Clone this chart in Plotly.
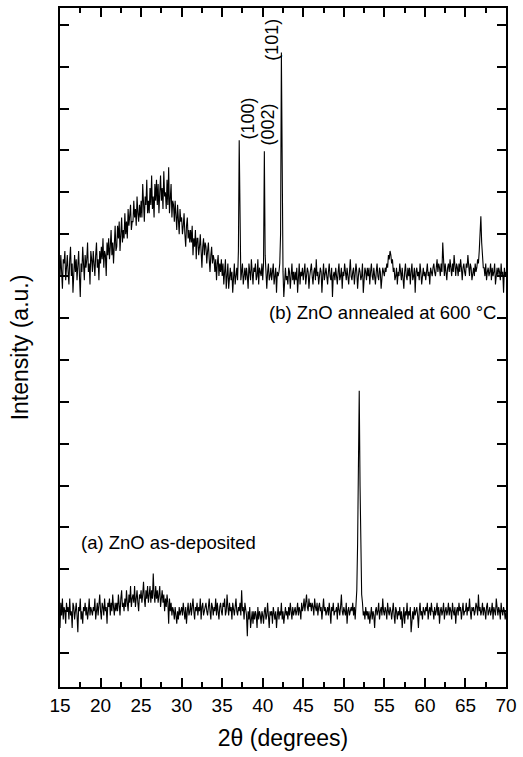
import numpy as np
import plotly.graph_objects as go

# 2-theta grid (degrees): 15.0 .. 70.0 in steps of 0.1
THETA_START = 15.0
THETA_STEP = 0.1

# (b) ZnO annealed at 600 °C -- one row per degree (d.0 ... d.9), arbitrary units
annealed_rows = [
    [9.0, 9.5, 9.1, 8.7, 9.4, 9.3, 9.6, 8.9, 9.2, 9.5],       # 15
    [9.1, 8.8, 9.4, 9.7, 9.0, 9.3, 8.6, 9.2, 9.5, 9.1],       # 16
    [9.4, 8.9, 9.2, 9.6, 9.0, 8.5, 9.3, 9.1, 9.7, 9.2],       # 17
    [8.9, 9.5, 9.2, 9.4, 9.8, 9.1, 9.3, 8.8, 9.6, 9.4],       # 18
    [9.1, 9.6, 9.3, 9.0, 9.5, 9.8, 9.2, 9.4, 8.9, 9.6],       # 19
    [9.3, 9.7, 9.4, 9.9, 9.2, 9.6, 9.5, 9.0, 9.8, 9.5],       # 20
    [9.9, 9.4, 9.7, 10.1, 9.5, 9.8, 9.3, 9.9, 10.2, 9.6],     # 21
    [9.7, 10.2, 9.9, 10.3, 9.6, 10.0, 10.4, 9.8, 10.1, 9.9],  # 22
    [10.5, 10.0, 10.3, 9.9, 10.6, 10.2, 10.4, 10.7, 10.1, 10.3],  # 23
    [10.3, 10.8, 10.4, 10.6, 10.2, 10.9, 10.5, 10.3, 10.7, 10.4],  # 24
    [10.8, 10.4, 11.2, 10.6, 10.3, 10.9, 10.7, 11.3, 10.5, 10.8],  # 25
    [10.5, 11.1, 10.7, 11.4, 10.6, 10.9, 10.4, 11.2, 10.8, 11.3],  # 26
    [10.7, 11.2, 10.5, 11.0, 11.4, 10.8, 11.1, 10.6, 11.5, 10.9],  # 27
    [11.0, 10.6, 11.3, 10.7, 11.6, 10.5, 10.9, 11.2, 10.4, 10.8],  # 28
    [10.7, 10.3, 10.8, 10.5, 10.1, 10.7, 10.4, 10.0, 10.6, 10.3],  # 29
    [10.4, 10.0, 10.2, 10.5, 10.0, 9.7, 10.2, 10.4, 9.9, 10.1],    # 30
    [9.8, 10.1, 9.8, 10.2, 9.5, 9.9, 9.7, 10.1, 9.4, 9.9],    # 31
    [9.9, 9.5, 9.7, 10.0, 9.6, 9.2, 9.7, 9.9, 9.5, 9.8],      # 32
    [9.7, 9.3, 9.6, 9.8, 9.4, 9.1, 9.5, 9.7, 9.3, 9.5],       # 33
    [9.4, 9.1, 9.4, 8.9, 9.3, 9.5, 9.0, 9.3, 9.1, 9.4],       # 34
    [9.0, 9.3, 8.8, 9.2, 9.4, 8.7, 9.1, 9.3, 8.7, 9.1],       # 35
    [9.2, 8.9, 9.1, 8.6, 9.0, 9.3, 8.8, 9.1, 9.2, 8.9],       # 36
    [9.6, 12.24, 9.4, 8.9, 9.1, 9.3, 8.8, 9.0, 9.2, 8.9],     # 37  (100)
    [9.2, 9.0, 8.7, 9.3, 9.1, 8.9, 9.4, 9.0, 8.8, 9.2],       # 38
    [9.1, 9.3, 8.9, 9.0, 9.4, 8.8, 9.2, 9.1, 9.0, 9.3],       # 39
    [8.9, 9.3, 11.98, 9.5, 9.0, 8.7, 9.1, 9.3, 8.9, 9.0],     # 40  (002)
    [9.2, 8.9, 9.1, 9.3, 8.8, 9.0, 9.2, 8.6, 9.1, 9.0],       # 41
    [9.1, 9.3, 10.0, 14.34, 10.2, 9.1, 8.5, 9.0, 9.2, 8.9],   # 42  (101)
    [9.0, 8.8, 9.2, 9.1, 8.7, 9.0, 9.3, 8.9, 9.1, 8.8],       # 43
    [9.1, 8.9, 9.2, 8.6, 9.0, 9.3, 8.8, 9.1, 9.0, 9.2],       # 44
    [8.9, 9.1, 9.3, 8.8, 9.0, 9.2, 9.1, 8.7, 9.0, 9.2],       # 45
    [9.3, 9.0, 8.8, 9.1, 9.2, 8.9, 9.4, 9.0, 9.1, 8.8],       # 46
    [9.0, 9.2, 9.1, 8.6, 9.0, 9.3, 8.9, 9.1, 9.2, 9.0],       # 47
    [8.8, 9.1, 9.3, 9.0, 8.9, 9.2, 8.5, 9.0, 9.1, 8.9],       # 48
    [9.2, 9.0, 8.8, 9.1, 9.3, 8.9, 9.0, 9.2, 8.7, 9.1],       # 49
    [9.0, 9.3, 9.1, 8.9, 9.2, 9.0, 8.8, 9.1, 9.4, 9.0],       # 50
    [8.9, 9.1, 9.2, 8.8, 9.0, 9.3, 9.1, 8.7, 9.0, 9.2],       # 51
    [9.1, 8.9, 9.0, 9.3, 8.6, 9.0, 9.2, 9.1, 8.9, 9.2],       # 52
    [9.0, 9.2, 8.8, 9.1, 9.3, 9.0, 8.9, 9.2, 9.0, 8.8],       # 53
    [9.1, 9.3, 9.0, 8.9, 9.2, 9.1, 8.7, 9.0, 9.2, 9.1],       # 54
    [9.0, 9.2, 9.1, 9.3, 9.2, 9.5, 9.4, 9.6, 9.5, 9.3],       # 55
    [9.4, 9.1, 9.2, 8.9, 9.0, 9.2, 8.8, 9.1, 9.0, 9.3],       # 56
    [9.1, 8.9, 9.2, 9.0, 8.7, 9.1, 9.3, 9.0, 8.9, 9.2],       # 57
    [9.0, 9.2, 8.8, 9.1, 9.3, 8.9, 9.0, 9.2, 8.6, 9.1],       # 58
    [9.2, 9.0, 9.1, 8.9, 9.3, 9.1, 8.8, 9.0, 9.2, 9.0],       # 59
    [9.1, 8.9, 9.2, 9.3, 9.0, 9.1, 8.8, 9.2, 9.1, 9.0],       # 60
    [9.2, 9.3, 9.1, 9.0, 9.2, 9.4, 9.1, 9.3, 9.2, 9.0],       # 61
    [9.3, 9.1, 9.8, 9.2, 9.0, 9.3, 9.1, 8.9, 9.2, 9.3],       # 62
    [9.1, 9.4, 9.2, 9.0, 9.3, 9.1, 9.5, 9.2, 9.0, 9.3],       # 63
    [9.2, 9.0, 9.3, 9.1, 9.4, 9.2, 8.9, 9.2, 9.3, 9.1],       # 64
    [9.0, 9.3, 9.2, 9.5, 9.1, 9.0, 9.3, 9.2, 8.9, 9.1],       # 65
    [9.2, 9.0, 9.3, 9.1, 9.2, 9.4, 9.3, 9.6, 9.9, 10.43],     # 66
    [9.8, 9.5, 9.2, 9.2, 9.0, 9.3, 8.9, 9.1, 9.2, 9.0],       # 67
    [9.1, 9.3, 8.9, 9.2, 9.0, 9.1, 9.3, 8.8, 9.1, 9.2],       # 68
    [9.0, 9.2, 9.1, 8.9, 9.3, 9.0, 9.1, 8.6, 9.2, 9.0],       # 69
]
annealed_last = 9.1  # 70.0

# (a) ZnO as-deposited -- one row per degree (d.0 ... d.9), arbitrary units
deposited_rows = [
    [0.6, 1.2, 0.9, 1.3, 0.8, 1.1, 1.0, 0.7, 1.2, 1.0],   # 15
    [1.1, 0.8, 1.3, 0.9, 1.0, 0.6, 1.2, 1.1, 0.8, 1.0],   # 16
    [1.2, 0.9, 0.5, 1.1, 1.0, 1.3, 0.8, 1.0, 0.7, 1.1],   # 17
    [1.0, 1.2, 0.9, 1.1, 0.8, 1.0, 1.3, 0.9, 1.1, 1.0],   # 18
    [0.9, 1.1, 1.0, 1.3, 0.8, 1.0, 1.2, 0.9, 1.1, 1.4],   # 19
    [1.0, 0.8, 1.2, 1.1, 0.9, 1.3, 1.0, 1.1, 0.7, 1.2],   # 20
    [1.1, 1.3, 0.9, 1.2, 1.0, 1.4, 1.1, 0.9, 1.2, 1.0],   # 21
    [1.2, 1.0, 1.4, 1.1, 0.9, 1.3, 1.5, 1.1, 1.2, 1.0],   # 22
    [1.3, 1.1, 1.5, 1.2, 1.0, 1.4, 1.2, 1.6, 1.1, 1.3],   # 23
    [1.4, 1.2, 1.6, 1.1, 1.3, 1.5, 1.2, 1.0, 1.4, 1.3],   # 24
    [1.5, 1.2, 1.4, 1.7, 1.3, 1.1, 1.5, 1.3, 1.6, 1.2],   # 25
    [1.4, 1.6, 1.2, 1.5, 1.3, 1.9, 1.4, 1.2, 1.6, 1.3],   # 26
    [1.5, 1.2, 1.4, 1.6, 1.1, 1.3, 1.5, 1.2, 1.4, 1.0],   # 27
    [1.3, 1.1, 1.4, 1.2, 0.7, 1.3, 1.0, 1.2, 0.9, 1.1],   # 28
    [1.0, 0.8, 1.1, 0.9, 0.7, 1.0, 0.8, 1.1, 0.9, 1.0],   # 29
    [1.1, 0.9, 1.2, 1.0, 0.8, 1.1, 0.7, 1.0, 1.2, 0.9],   # 30
    [1.0, 1.2, 0.9, 1.1, 1.3, 1.0, 0.8, 1.1, 1.0, 1.2],   # 31
    [0.9, 1.1, 1.0, 1.3, 0.8, 1.1, 1.2, 0.9, 1.0, 1.1],   # 32
    [1.2, 1.0, 0.9, 1.1, 1.3, 1.0, 0.8, 1.2, 1.1, 0.9],   # 33
    [1.1, 1.0, 1.3, 0.9, 1.2, 1.0, 0.8, 1.1, 1.2, 1.0],   # 34
    [0.9, 1.2, 1.1, 1.3, 0.9, 1.0, 1.4, 1.1, 0.9, 1.2],   # 35
    [1.0, 1.1, 0.8, 1.2, 1.0, 0.9, 1.1, 1.3, 1.0, 0.9],   # 36
    [1.1, 1.0, 1.2, 0.9, 1.5, 1.0, 1.1, 0.8, 1.2, 1.0],   # 37
    [0.9, 0.4, 1.0, 0.8, 1.1, 0.6, 0.9, 1.0, 0.7, 1.0],   # 38
    [0.8, 1.0, 0.9, 0.6, 1.1, 0.8, 1.0, 0.9, 0.7, 1.0],   # 39
    [0.9, 0.7, 1.0, 1.1, 0.8, 0.9, 1.2, 0.8, 0.6, 1.0],   # 40
    [0.9, 1.0, 0.7, 1.1, 0.9, 0.8, 1.0, 0.6, 0.9, 1.1],   # 41
    [0.8, 1.0, 0.9, 1.2, 0.8, 1.0, 0.7, 0.9, 1.1, 0.9],   # 42
    [1.0, 0.8, 1.1, 0.9, 1.2, 1.0, 0.8, 1.1, 0.9, 1.0],   # 43
    [1.1, 0.9, 1.0, 1.2, 0.9, 1.1, 1.0, 0.8, 1.2, 1.0],   # 44
    [1.1, 1.3, 1.0, 1.2, 1.4, 1.1, 1.0, 1.3, 1.1, 1.2],   # 45
    [1.0, 1.2, 1.1, 0.9, 1.3, 1.1, 1.0, 1.2, 0.9, 1.1],   # 46
    [1.2, 1.0, 1.1, 0.8, 1.2, 1.3, 1.0, 1.1, 0.9, 1.0],   # 47
    [1.1, 0.9, 1.2, 1.0, 0.7, 1.1, 1.0, 1.2, 0.9, 1.0],   # 48
    [1.0, 1.1, 0.8, 1.2, 1.0, 0.9, 1.1, 1.4, 1.0, 0.9],   # 49
    [1.1, 1.0, 0.9, 1.2, 0.7, 1.0, 1.1, 0.9, 1.0, 1.1],   # 50
    [1.0, 1.2, 0.9, 1.1, 0.8, 1.2, 1.5, 2.6, 4.6, 6.26],  # 51
    [4.0, 2.2, 1.4, 1.2, 0.9, 1.0, 0.8, 1.1, 0.9, 1.0],   # 52
    [0.8, 1.0, 0.7, 0.9, 1.1, 0.8, 1.0, 0.9, 0.6, 1.0],   # 53
    [1.1, 0.9, 1.0, 1.2, 0.8, 1.0, 1.1, 0.9, 1.3, 1.0],   # 54
    [0.9, 1.1, 1.0, 0.8, 1.2, 1.0, 0.9, 1.1, 1.0, 0.8],   # 55
    [1.0, 1.2, 0.9, 0.7, 1.1, 1.0, 0.8, 1.0, 0.9, 1.1],   # 56
    [0.8, 1.0, 0.6, 0.9, 1.1, 0.7, 1.0, 0.9, 1.2, 0.8],   # 57
    [1.0, 0.9, 1.1, 0.5, 0.9, 1.0, 0.8, 1.1, 0.9, 1.0],   # 58
    [1.1, 0.9, 0.6, 1.0, 1.2, 0.9, 1.0, 0.8, 1.1, 1.0],   # 59
    [0.9, 1.1, 1.0, 1.2, 0.8, 1.0, 1.1, 0.9, 1.2, 1.0],   # 60
    [1.0, 0.8, 1.1, 0.9, 1.0, 1.2, 0.9, 1.1, 0.7, 1.0],   # 61
    [1.1, 0.9, 1.0, 1.2, 0.8, 1.0, 1.1, 0.9, 1.0, 1.2],   # 62
    [0.9, 1.1, 1.0, 0.8, 1.2, 1.0, 0.9, 1.1, 0.7, 1.0],   # 63
    [1.1, 0.9, 1.2, 1.0, 1.1, 0.8, 1.0, 1.2, 0.9, 1.0],   # 64
    [1.0, 1.2, 0.9, 1.1, 1.0, 1.3, 1.0, 0.8, 1.1, 1.0],   # 65
    [1.1, 0.9, 1.0, 1.2, 1.1, 0.9, 1.4, 1.0, 1.1, 0.9],   # 66
    [1.0, 1.2, 0.9, 1.1, 1.0, 0.8, 1.1, 1.2, 0.9, 1.0],   # 67
    [1.1, 0.9, 1.0, 1.2, 0.8, 1.1, 1.0, 0.9, 1.3, 1.0],   # 68
    [0.9, 1.1, 1.0, 0.8, 1.2, 1.0, 0.9, 1.1, 1.0, 0.8],   # 69
]
deposited_last = 1.0  # 70.0

x_ticks = [15, 20, 25, 30, 35, 40, 45, 50, 55, 60, 65, 70]
x_minor_ticks = [17.5, 22.5, 27.5, 32.5, 37.5, 42.5, 47.5, 52.5, 57.5, 62.5, 67.5]
y_ticks = list(range(16))

annealed = [v for row in annealed_rows for v in row] + [annealed_last]
deposited = [v for row in deposited_rows for v in row] + [deposited_last]
theta = np.round(THETA_START + THETA_STEP * np.arange(len(annealed)), 2)

FONT = "Liberation Sans, Arial, sans-serif"

fig = go.Figure()
fig.add_trace(go.Scatter(x=theta, y=deposited, mode="lines",
                         line=dict(color="black", width=1.1), hoverinfo="skip"))
fig.add_trace(go.Scatter(x=theta, y=annealed, mode="lines",
                         line=dict(color="black", width=1.1), hoverinfo="skip"))

annots = [
    dict(x=68.9, y=8.12, text="(b) ZnO annealed at 600 °C", xanchor="right", yanchor="middle",
         textangle=0, size=18.5),
    dict(x=17.45, y=2.64, text="(a) ZnO as-deposited", xanchor="left", yanchor="middle",
         textangle=0, size=18.5),
    dict(x=38.18, y=12.76, text="(100)", xanchor="center", yanchor="middle", textangle=-90, size=18),
    dict(x=40.65, y=12.62, text="(002)", xanchor="center", yanchor="middle", textangle=-90, size=18),
    dict(x=41.14, y=14.64, text="(101)", xanchor="center", yanchor="middle", textangle=-90, size=18),
]
for a in annots:
    fig.add_annotation(x=a["x"], y=a["y"], xref="x", yref="y", text=a["text"], showarrow=False,
                       xanchor=a["xanchor"], yanchor=a["yanchor"], textangle=a["textangle"],
                       font=dict(family=FONT, size=a["size"], color="black"),
                       borderpad=0)

fig.update_layout(
    width=523, height=757,
    margin=dict(l=60, r=17, t=6, b=70),
    paper_bgcolor="white", plot_bgcolor="white",
    showlegend=False,
    font=dict(family=FONT, color="black"),
)
fig.update_xaxes(
    range=[15, 70], tickvals=x_ticks, ticktext=[str(t) for t in x_ticks],
    ticks="inside", ticklen=9, tickwidth=1.5, tickcolor="black",
    minor=dict(tickvals=x_minor_ticks, ticks="inside", ticklen=5, tickwidth=1.5, tickcolor="black"),
    showline=True, linewidth=2, linecolor="black", mirror="ticks",
    showgrid=False, zeroline=False,
    tickfont=dict(family=FONT, size=19, color="black"),
    title=dict(text="2θ (degrees)", font=dict(family=FONT, size=23, color="black"), standoff=15),
)
fig.update_yaxes(
    range=[-0.81, 15.40], tickvals=y_ticks, showticklabels=False,
    ticks="inside", ticklen=9, tickwidth=1.5, tickcolor="black",
    showline=True, linewidth=2, linecolor="black", mirror="ticks",
    showgrid=False, zeroline=False,
    title=dict(text="Intensity (a.u.)", font=dict(family=FONT, size=23, color="black"), standoff=23),
)

fig.write_html("out.html")
